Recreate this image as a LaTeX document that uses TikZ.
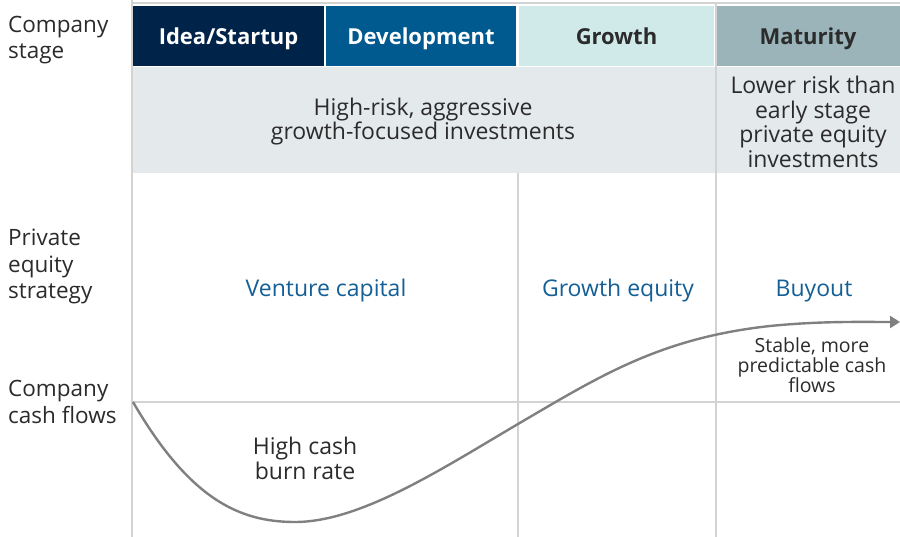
\documentclass[tikz,border=0pt]{standalone}
\usepackage{fontspec}
\setmainfont{Open Sans}
\usetikzlibrary{arrows.meta}
\definecolor{navy}{HTML}{00234A}
\definecolor{devblue}{HTML}{00598F}
\definecolor{growthc}{HTML}{D0EAEA}
\definecolor{maturec}{HTML}{9AB4BA}
\definecolor{rowgray}{HTML}{E4E9EC}
\definecolor{gridgray}{HTML}{D3D3D3}
\definecolor{labelblue}{HTML}{145F96}
\definecolor{darktext}{HTML}{2B2B2B}
\tikzset{
  stagecell/.style={rectangle, minimum height=60pt, inner sep=0pt, text height=17pt, text depth=0pt, font=\fontsize{22}{24}\selectfont\bfseries},
  riskcell/.style={rectangle, fill=rowgray, minimum height=106pt, inner sep=0pt},
  rowlabel/.style={anchor=north west, align=left, inner sep=0pt, text=darktext, font=\fontsize{22.5}{26.5}\selectfont},
  stratlabel/.style={text=labelblue, inner sep=0pt, font=\fontsize{23}{25}\selectfont},
  bodytext/.style={align=center, inner sep=0pt, text=darktext, font=\fontsize{23}{24.5}\selectfont},
  gridline/.style={draw=gridgray, line width=2pt}
}
\begin{document}
\begin{tikzpicture}[x=1pt,y=-1pt]
\useasboundingbox[fill=white] (0,0) rectangle (900,537);
% stage headers
\node[stagecell, fill=navy, text=white, minimum width=191pt] (idea) at (228.5,36.5) {Idea/Startup};
\node[stagecell, fill=devblue, text=white, minimum width=190pt] (dev) at (421,36.5) {Development};
\node[stagecell, fill=growthc, text=darktext, minimum width=195pt] (growth) at (616.5,36.5) {Growth};
\node[stagecell, fill=maturec, text=darktext, minimum width=184pt] (mature) at (808,36.5) {Maturity};
% risk row
\node[riskcell, minimum width=582pt] (highrisk) at (424,120) {};
\node[riskcell, minimum width=184pt] (lowrisk) at (808,120) {};
\node[bodytext] at (423,121.5) {High-risk, aggressive\\growth-focused investments};
\node[bodytext] at (813,122) {Lower risk than\\early stage\\private equity\\investments};
% grid
\draw[gridline] (132,0) -- (132,537);
\draw[gridline] (132,3) -- (900,3);
\draw[gridline] (716,3) -- (716,537);
\draw[gridline] (518,173) -- (518,537);
\draw[gridline] (132,402) -- (900,402);
% row labels
\node[rowlabel] (stage) at (8,16) {Company\\stage};
\node[rowlabel] (strategy) at (8,229) {Private\\equity\\strategy};
\node[rowlabel] (cash) at (8,380.5) {Company\\cash flows};
% strategies
\node[stratlabel] (vc) at (326,291) {Venture capital};
\node[stratlabel] (ge) at (618,291) {Growth equity};
\node[stratlabel] (bo) at (814,291) {Buyout};
% cash flow curve
\draw[draw=gray, line width=2.4pt, -{Triangle[length=10pt,width=12pt]}]
  (133,402) .. controls (190,500) and (240,522) .. (295,522)
  .. controls (360,522) and (440,470) .. (518,424)
  .. controls (600,376) and (660,338) .. (770,326)
  .. controls (820,321) and (860,322) .. (900,322);
\node[bodytext] (burn) at (305,458.5) {High cash\\burn rate};
\node[bodytext, font=\fontsize{19.5}{19.5}\selectfont] (stable) at (812,365.5) {Stable, more\\predictable cash\\flows};
\end{tikzpicture}
\end{document}
